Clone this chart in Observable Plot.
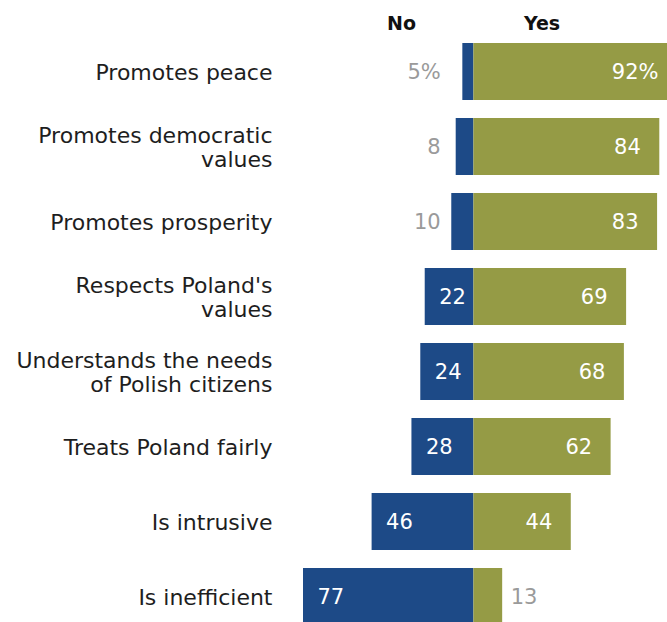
<!DOCTYPE html>
<html>
<head>
<meta charset="utf-8">
<script src="https://cdn.jsdelivr.net/npm/d3@7"></script>
<script src="https://cdn.jsdelivr.net/npm/@observablehq/plot@0.6"></script>
<style>
  html, body { margin: 0; padding: 0; background: white; overflow: hidden; }
  #chart svg { display: block; overflow: hidden; }
</style>
</head>
<body>
<div id="chart"></div>
<script>
const categories = [
  "Promotes peace",
  "Promotes democratic\nvalues",
  "Promotes prosperity",
  "Respects Poland's\nvalues",
  "Understands the needs\nof Polish citizens",
  "Treats Poland fairly",
  "Is intrusive",
  "Is inefficient"
];
const noValues = [5, 8, 10, 22, 24, 28, 46, 77];
const yesValues = [92, 84, 83, 69, 68, 62, 44, 13];
const noLabels = ["5%", "8", "10", "22", "24", "28", "46", "77"];
const yesLabels = ["92%", "84", "83", "69", "68", "62", "44", "13"];
const headers = ["No", "Yes"];

const rows = categories.map((cat, i) => ({
  cat, no: noValues[i], yes: yesValues[i], noLabel: noLabels[i], yesLabel: yesLabels[i]
}));

const blue = "#1d4a87";
const green = "#959b45";
const gray = "#9a9a9a";
const fs = 21;

const chart = Plot.plot({
  width: 667,
  height: 622,
  marginLeft: 282,
  marginRight: 0,
  marginTop: 0,
  marginBottom: 0,
  x: {domain: [-77, 92], range: [303, 677], axis: null},
  y: {domain: categories, range: [23.6, 644], padding: 0.24, axis: null},
  style: {fontFamily: "DejaVu Sans", background: "white"},
  marks: [
    Plot.barX(rows, {y: "cat", x1: 0, x2: d => -d.no, fill: blue}),
    Plot.barX(rows, {y: "cat", x1: 0, x2: "yes", fill: green}),
    // category labels
    Plot.text(rows, {y: "cat", text: "cat", frameAnchor: "left", textAnchor: "end", dx: -10,
      fontSize: 22, lineHeight: 1.12, fill: "#1e1e1e"}),
    // No labels inside
    Plot.text(rows.filter(d => d.no >= 20), {y: "cat", x: d => -d.no, text: "noLabel", textAnchor: "start",
      dx: 14, fontSize: fs, fill: "white"}),
    // No labels outside
    Plot.text(rows.filter(d => d.no < 20), {y: "cat", x: () => -15, text: "noLabel", textAnchor: "end",
      fontSize: fs, fill: gray}),
    // Yes labels inside
    Plot.text(rows.filter(d => d.yes >= 20), {y: "cat", x: "yes", text: "yesLabel", textAnchor: "end",
      dx: -19, fontSize: fs, fill: "white"}),
    // Yes labels outside
    Plot.text(rows.filter(d => d.yes < 20), {y: "cat", x: "yes", text: "yesLabel", textAnchor: "start",
      dx: 8, fontSize: fs, fill: gray}),
    // headers
    Plot.text([headers[0]], {x: () => -32.7, frameAnchor: "top", dy: 16, text: d => d,
      fontSize: 19, fontWeight: "bold", fill: "#111"}),
    Plot.text([headers[1]], {x: () => 30.8, frameAnchor: "top", dy: 16, text: d => d,
      fontSize: 19, fontWeight: "bold", fill: "#111"})
  ]
});
document.getElementById("chart").appendChild(chart);
</script>
</body>
</html>
